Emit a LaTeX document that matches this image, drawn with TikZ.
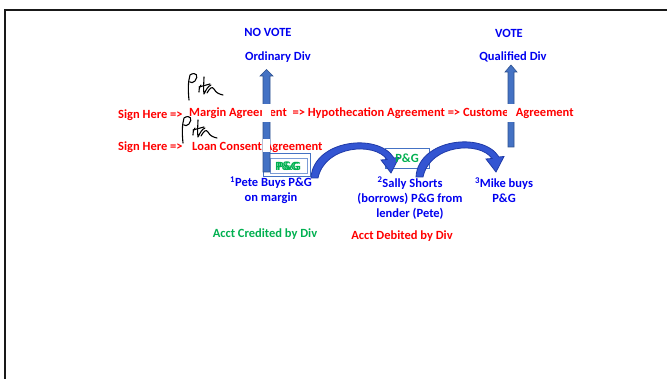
\documentclass[tikz,border=0pt]{standalone}
\usepackage{fontspec}
\setmainfont{Carlito}
\usetikzlibrary{arrows.meta}
\definecolor{txtblue}{HTML}{0000F0}
\definecolor{txtred}{HTML}{FF0000}
\definecolor{txtgreen}{HTML}{00B050}
\definecolor{arrfill}{HTML}{4472C4}
\definecolor{arredge}{HTML}{2F528F}
\definecolor{curvfill}{HTML}{3355D2}
\definecolor{curvedge}{HTML}{1F3AA8}
\definecolor{boxedge}{HTML}{4472C4}
\begin{document}
\begin{tikzpicture}[x=1pt,y=-1pt,
  lbl/.style={font=\bfseries\fontsize{12.5}{15}\selectfont, inner sep=0pt, align=center},
  bluetxt/.style={lbl, text=txtblue},
  redtxt/.style={lbl, text=txtred},
  greentxt/.style={lbl, text=txtgreen},
  vertarrow/.style={fill=arrfill, draw=arredge, line width=0.6pt},
  curvarrow/.style={fill=curvfill, draw=curvedge, line width=0.8pt},
  pgbox/.style={draw=boxedge, line width=0.8pt},
  sig/.style={draw=black, line width=1.1pt, line cap=round, line join=round}
]
\useasboundingbox (0,0) rectangle (667,379);
\fill[white] (0,0) rectangle (667,379);
% frame
\draw[line width=2.6pt, black!90] (667,10) -- (5,10) -- (5,380);

% top labels
\node[bluetxt] (novote) at (268,32) {NO VOTE};
\node[bluetxt] (ordiv) at (278,57) {Ordinary Div};
\node[bluetxt] (vote) at (509,33) {VOTE};
\node[bluetxt] (qualdiv) at (513,57) {Qualified Div};

% P&G box 1 (behind the left arrow)
\draw[pgbox, fill=white] (263,153) rectangle (310,176);
\draw[pgbox, draw=boxedge!70, fill=white] (270,158) rectangle (307,173);

% vertical arrows
\coordinate (la) at (266,172);
\coordinate (ra) at (511,147);
\path[vertarrow] (263,172) -- (263,76) -- (260,76) -- (266.5,69.5) -- (273,76) -- (270,76) -- (270,172) -- cycle;
\path[vertarrow] (508,147) -- (508,72) -- (505,72) -- (511,65) -- (517,72) -- (514,72) -- (514,147) -- cycle;

% agreement lines
\node[redtxt, anchor=west] (sign1) at (118,115) {Sign Here =>};
\node[redtxt, anchor=west] (margin) at (189,113) {Margin Agreement\ \ => Hypothecation Agreement => Customer Agreement};
\node[redtxt, anchor=west] (sign2) at (118,147) {Sign Here =>};
\node[redtxt, anchor=west] (loan) at (192,147) {Loan Consent Agreement};
% gaps where the arrows pass behind the text
\fill[white] (262,104) rectangle (271,122);
\fill[white] (262.5,139) rectangle (269.5,152);
\fill[white] (507,104) rectangle (515,122);

% signatures
\draw[sig] (189,100) .. controls (188,90) and (188,82) .. (190,75)
  .. controls (196,71) and (199,76) .. (195,81) .. controls (193,83) and (191,83) .. (190,82);
\draw[sig] (199,92) .. controls (199,88) and (200,86) .. (201,85);
\draw[sig] (204,77) .. controls (204,82) and (203,88) .. (204,94) .. controls (206,90) and (208,86) .. (211,85);
\draw[sig] (199,87) -- (210,84);
\draw[sig] (207,93) .. controls (210,88) and (212,86) .. (214,89) .. controls (216,93) and (219,94) .. (223,95);
\begin{scope}[shift={(-6,43)}]
\draw[sig] (189,100) .. controls (188,90) and (188,82) .. (190,75)
  .. controls (196,71) and (199,76) .. (195,81) .. controls (193,83) and (191,83) .. (190,82);
\draw[sig] (199,92) .. controls (199,88) and (200,86) .. (201,85);
\draw[sig] (204,77) .. controls (204,82) and (203,88) .. (204,94) .. controls (206,90) and (208,86) .. (211,85);
\draw[sig] (199,87) -- (210,84);
\draw[sig] (207,93) .. controls (210,88) and (212,86) .. (214,89) .. controls (216,93) and (219,94) .. (223,95);
\end{scope}

% P&G box 2
\draw[pgbox] (385,148) rectangle (429,168);

% curved arrows
\path[curvarrow] (311,178) .. controls (313,140) and (378,132) .. (394,158)
  -- (399,157.5) -- (391,173) -- (381,160) -- (387,159.5)
  .. controls (375,142) and (325,145) .. (318,178) -- cycle;
\begin{scope}[shift={(105,-1)}]
\path[curvarrow] (311,178) .. controls (313,140) and (378,132) .. (394,158)
  -- (399,157.5) -- (391,173) -- (381,160) -- (387,159.5)
  .. controls (375,142) and (325,145) .. (318,178) -- cycle;
\end{scope}

% P&G texts
\node[greentxt] (pg1a) at (287,166.5) {P\&G};
\node[greentxt] (pg1b) at (289,166) {P\&G};
\node[greentxt] (pg2) at (407,158) {P\&G};

% step labels
\node[bluetxt] (pete) at (271,190.5) {\textsuperscript{1}Pete Buys P\&G\\on margin};
\node[bluetxt] (sally) at (410,198) {\textsuperscript{2}Sally Shorts\\(borrows) P\&G from\\lender (Pete)};
\node[bluetxt] (mike) at (504,190.5) {\textsuperscript{3}Mike buys\\P\&G};

\node[greentxt] (credit) at (265,234) {Acct Credited by Div};
\node[redtxt] (debit) at (402,236) {Acct Debited by Div};
\end{tikzpicture}
\end{document}
